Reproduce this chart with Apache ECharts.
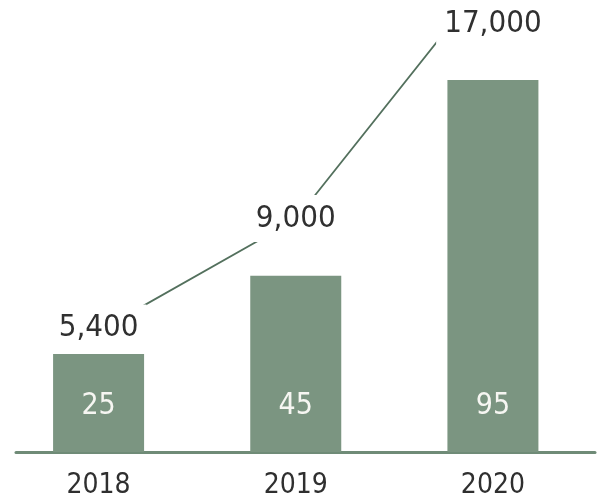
<!DOCTYPE html>
<html>
<head>
<meta charset="utf-8">
<script src="https://cdn.jsdelivr.net/npm/echarts@6/dist/echarts.min.js"></script>
<style>
html,body{margin:0;padding:0;background:#fff;}
#c{width:603px;height:504px;}
</style>
</head>
<body>
<div id="c"></div>
<script>
const years = ['2018', '2019', '2020'];
const barValues = [25, 45, 95];
const lineValues = [5400, 9000, 17000];

const FONT = "'DejaVu Sans Condensed', 'Noto Sans', sans-serif";
const fmt = v => String(v).replace(/\B(?=(\d{3})+(?!\d))/g, ',');
const lineLabelOffsets = [[0, -3], [0, -1], [0, 52]];

const chart = echarts.init(document.getElementById('c'), null, {renderer: 'canvas'});
chart.setOption({
  backgroundColor: '#ffffff',
  animation: false,
  grid: [
    {left: -2.5, right: 11.5, top: 80, bottom: 52},
    {left: 16, right: 8, top: 80, bottom: 52}
  ],
  xAxis: [
    {
      type: 'category', gridIndex: 0, data: years,
      axisLine: {show: false}, axisTick: {show: false},
      axisLabel: {fontFamily: FONT, fontSize: 28, color: '#2f2f2f', margin: 20}
    },
    {
      type: 'category', gridIndex: 1, data: years,
      axisLine: {show: true, lineStyle: {color: '#6f8b77', width: 3}},
      axisTick: {show: false}, axisLabel: {show: false}
    }
  ],
  yAxis: [
    {type: 'value', gridIndex: 0, min: 0, max: 95, show: false},
    {type: 'value', gridIndex: 0, min: 1500, max: 13500, show: false},
    {type: 'value', gridIndex: 1, show: false}
  ],
  series: [
    {
      type: 'bar', xAxisIndex: 0, yAxisIndex: 0,
      data: barValues, barWidth: 91,
      itemStyle: {color: '#7b9581'},
      label: {
        show: true, position: 'insideBottom', distance: 31,
        fontFamily: FONT, fontSize: 30, color: '#f6f6f2'
      }
    },
    {
      type: 'line', xAxisIndex: 0, yAxisIndex: 1, clip: false,
      data: lineValues.map((v, i) => ({
        value: v,
        label: {offset: lineLabelOffsets[i]}
      })),
      symbol: 'circle', symbolSize: 1,
      lineStyle: {color: '#53705d', width: 1.8},
      itemStyle: {color: '#53705d'},
      label: {
        show: true, position: 'inside',
        formatter: p => fmt(p.value),
        fontFamily: FONT, fontSize: 31, color: '#303030',
        backgroundColor: '#ffffff', padding: [8, 8]
      },
      z: 3
    }
  ]
});
</script>
</body>
</html>
